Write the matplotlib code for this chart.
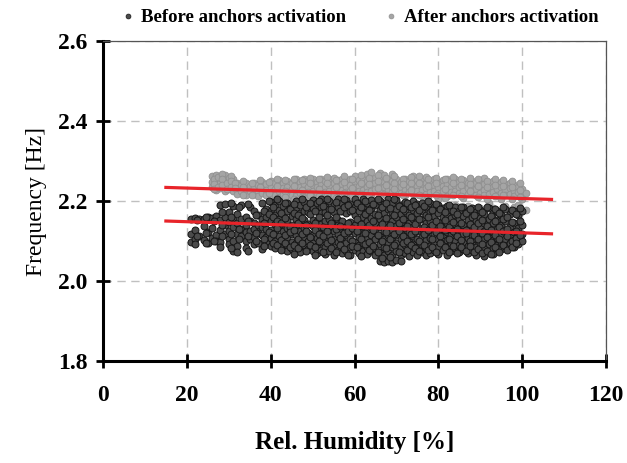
"""
 frequency vs relative humidity, before / after anchors activation
"""
import matplotlib.pyplot as plt
from matplotlib.lines import Line2D

plt.rcParams['font.family'] = ['Liberation Serif', 'DejaVu Serif']

# before anchors activation: humidity [%] -> measured frequencies [Hz]
before = {
    21: [2.155, 2.118, 2.098], 22: [2.158, 2.128, 2.105, 2.092],
    23: [2.156, 2.112], 24: [2.155, 2.138, 2.102],
    25: [2.160, 2.122, 2.096], 26: [2.157, 2.132, 2.108],
    27: [2.162, 2.115, 2.100], 28: [2.190, 2.152, 2.128, 2.098, 2.086],
    29: [2.192, 2.160, 2.140, 2.118], 30: [2.172, 2.148, 2.125, 2.106, 2.092],
    31: [2.188, 2.158, 2.134, 2.100, 2.075], 32: [2.168, 2.145, 2.118, 2.088, 2.072],
    33: [2.190, 2.155, 2.130, 2.112], 34: [2.160, 2.140, 2.122, 2.100, 2.082],
    35: [2.186, 2.150, 2.126, 2.105], 36: [2.176, 2.146, 2.130, 2.110, 2.092],
    37: [2.165, 2.140, 2.120, 2.096], 38: [2.195, 2.156, 2.135, 2.115, 2.080],
    39: [2.180, 2.160, 2.130, 2.110, 2.094],
    40: [2.198, 2.175, 2.150, 2.128, 2.108, 2.088],
    41: [2.190, 2.165, 2.142, 2.120, 2.100, 2.082],
    42: [2.200, 2.178, 2.155, 2.135, 2.112, 2.092],
    43: [2.188, 2.168, 2.146, 2.124, 2.104, 2.086],
    44: [2.196, 2.176, 2.152, 2.132, 2.110, 2.090, 2.075],
    45: [2.185, 2.162, 2.140, 2.118, 2.098, 2.080],
    46: [2.200, 2.180, 2.154, 2.136, 2.114, 2.094],
    47: [2.190, 2.170, 2.148, 2.126, 2.106, 2.086, 2.072],
    48: [2.198, 2.176, 2.152, 2.132, 2.110, 2.090],
    49: [2.186, 2.172, 2.142, 2.120, 2.100, 2.080],
    50: [2.202, 2.182, 2.152, 2.138, 2.116, 2.096, 2.076],
    51: [2.196, 2.174, 2.150, 2.130, 2.108, 2.088, 2.070],
    52: [2.204, 2.184, 2.170, 2.142, 2.120, 2.098, 2.078],
    53: [2.192, 2.172, 2.150, 2.128, 2.106, 2.086, 2.068],
    54: [2.200, 2.180, 2.154, 2.136, 2.116, 2.094, 2.074],
    55: [2.190, 2.172, 2.146, 2.124, 2.104, 2.084, 2.066],
    56: [2.206, 2.184, 2.152, 2.140, 2.118, 2.098, 2.078],
    57: [2.194, 2.174, 2.150, 2.130, 2.110, 2.088, 2.070],
    58: [2.202, 2.180, 2.170, 2.136, 2.114, 2.094, 2.074],
    59: [2.192, 2.174, 2.148, 2.126, 2.106, 2.086, 2.066],
    60: [2.204, 2.184, 2.164, 2.140, 2.120, 2.098, 2.078],
    61: [2.196, 2.174, 2.152, 2.132, 2.110, 2.090, 2.070],
    62: [2.206, 2.186, 2.160, 2.138, 2.116, 2.096, 2.076],
    63: [2.194, 2.172, 2.150, 2.128, 2.108, 2.086, 2.068],
    64: [2.202, 2.182, 2.158, 2.136, 2.114, 2.094, 2.074],
    65: [2.190, 2.168, 2.146, 2.124, 2.104, 2.082, 2.064],
    66: [2.200, 2.178, 2.156, 2.134, 2.112, 2.092, 2.072, 2.050],
    67: [2.192, 2.170, 2.148, 2.126, 2.106, 2.084, 2.066, 2.048],
    68: [2.204, 2.180, 2.158, 2.136, 2.114, 2.094, 2.074, 2.050],
    69: [2.194, 2.172, 2.150, 2.128, 2.108, 2.086, 2.066, 2.048],
    70: [2.202, 2.180, 2.160, 2.138, 2.116, 2.096, 2.076, 2.052],
    71: [2.190, 2.168, 2.146, 2.124, 2.104, 2.084, 2.064, 2.050],
    72: [2.198, 2.176, 2.154, 2.132, 2.112, 2.090, 2.070],
    73: [2.188, 2.166, 2.144, 2.122, 2.100, 2.080, 2.062],
    74: [2.200, 2.178, 2.156, 2.134, 2.112, 2.092, 2.072],
    75: [2.192, 2.170, 2.148, 2.126, 2.106, 2.086, 2.066],
    76: [2.196, 2.176, 2.154, 2.132, 2.110, 2.090, 2.072],
    77: [2.186, 2.166, 2.144, 2.122, 2.102, 2.082, 2.066],
    78: [2.194, 2.172, 2.150, 2.128, 2.108, 2.088, 2.070],
    79: [2.184, 2.162, 2.140, 2.118, 2.098, 2.078],
    80: [2.190, 2.170, 2.148, 2.126, 2.106, 2.086, 2.068],
    81: [2.182, 2.160, 2.138, 2.116, 2.096, 2.078],
    82: [2.188, 2.166, 2.144, 2.122, 2.102, 2.084, 2.066],
    83: [2.178, 2.158, 2.136, 2.114, 2.094, 2.076],
    84: [2.186, 2.164, 2.142, 2.120, 2.100, 2.082],
    85: [2.176, 2.154, 2.132, 2.110, 2.090, 2.072],
    86: [2.184, 2.162, 2.140, 2.118, 2.098, 2.080],
    87: [2.174, 2.152, 2.130, 2.108, 2.088, 2.070],
    88: [2.182, 2.160, 2.138, 2.116, 2.096, 2.078],
    89: [2.172, 2.150, 2.128, 2.106, 2.086, 2.066],
    90: [2.178, 2.158, 2.136, 2.114, 2.094, 2.080],
    91: [2.168, 2.146, 2.124, 2.104, 2.084, 2.062],
    92: [2.182, 2.156, 2.134, 2.112, 2.092],
    93: [2.170, 2.144, 2.122, 2.102, 2.082, 2.068],
    94: [2.176, 2.152, 2.130, 2.108, 2.090],
    95: [2.164, 2.140, 2.118, 2.098, 2.080],
    96: [2.180, 2.150, 2.126, 2.106, 2.088],
    97: [2.168, 2.136, 2.114, 2.094],
    98: [2.174, 2.146, 2.122, 2.102, 2.084],
    99: [2.166, 2.132, 2.110, 2.092],
    100: [2.176, 2.140, 2.118, 2.100],
    # readings between the whole percents
    22.5: [2.152, 2.112], 24.5: [2.160, 2.120, 2.094], 26.5: [2.150, 2.100],
    28.5: [2.172, 2.140, 2.112], 30.5: [2.196, 2.160, 2.118, 2.082],
    32.5: [2.184, 2.130, 2.104], 34.5: [2.192, 2.150, 2.112, 2.074],
    36.5: [2.166, 2.120, 2.100], 38.5: [2.176, 2.144, 2.104, 2.088],
    39.5: [2.200, 2.168, 2.122],
    40.5: [2.186, 2.160, 2.118, 2.096], 41.5: [2.204, 2.150, 2.132, 2.090],
    42.5: [2.170, 2.144, 2.102, 2.078], 43.5: [2.196, 2.158, 2.116, 2.094],
    44.5: [2.180, 2.136, 2.122, 2.084], 45.5: [2.192, 2.170, 2.128, 2.090, 2.068],
    46.5: [2.166, 2.146, 2.104, 2.082], 47.5: [2.206, 2.158, 2.118, 2.096],
    48.5: [2.184, 2.140, 2.124, 2.074], 49.5: [2.194, 2.168, 2.110, 2.090],
    50.5: [2.176, 2.146, 2.128, 2.084, 2.066], 51.5: [2.200, 2.160, 2.118, 2.100],
    52.5: [2.188, 2.136, 2.112, 2.072], 53.5: [2.206, 2.166, 2.124, 2.094],
    54.5: [2.180, 2.144, 2.102, 2.082], 55.5: [2.198, 2.160, 2.130, 2.072],
    56.5: [2.174, 2.138, 2.108, 2.090], 57.5: [2.204, 2.186, 2.120, 2.080],
    58.5: [2.190, 2.146, 2.124, 2.064], 59.5: [2.178, 2.132, 2.100, 2.088],
    60.5: [2.196, 2.156, 2.126, 2.084], 61.5: [2.186, 2.142, 2.104, 2.062],
    62.5: [2.200, 2.168, 2.120, 2.092], 63.5: [2.178, 2.140, 2.098, 2.078],
    64.5: [2.192, 2.150, 2.128, 2.088], 65.5: [2.206, 2.164, 2.116, 2.072],
    66.5: [2.186, 2.142, 2.100, 2.058], 67.5: [2.196, 2.158, 2.122, 2.082],
    68.5: [2.182, 2.140, 2.104, 2.060], 69.5: [2.204, 2.164, 2.118, 2.090],
    70.5: [2.188, 2.144, 2.126, 2.072], 71.5: [2.180, 2.156, 2.112, 2.094],
    72.5: [2.196, 2.138, 2.100, 2.078], 73.5: [2.184, 2.160, 2.118, 2.090],
    74.5: [2.190, 2.142, 2.124, 2.082], 75.5: [2.178, 2.156, 2.100, 2.074],
    76.5: [2.188, 2.136, 2.118, 2.090], 77.5: [2.200, 2.160, 2.128, 2.078],
    78.5: [2.178, 2.140, 2.104, 2.086], 79.5: [2.192, 2.150, 2.122, 2.072],
    80.5: [2.180, 2.138, 2.112, 2.094], 81.5: [2.172, 2.152, 2.128, 2.084],
    82.5: [2.190, 2.134, 2.106, 2.072], 83.5: [2.176, 2.148, 2.124, 2.088],
    84.5: [2.168, 2.130, 2.112, 2.070], 85.5: [2.186, 2.146, 2.102, 2.084],
    86.5: [2.170, 2.128, 2.120, 2.076], 87.5: [2.180, 2.142, 2.100, 2.088],
    88.5: [2.166, 2.134, 2.116, 2.072], 89.5: [2.184, 2.144, 2.104, 2.080],
    90.5: [2.172, 2.152, 2.120, 2.092, 2.070], 91.5: [2.186, 2.138, 2.110, 2.076],
    92.5: [2.162, 2.128, 2.098, 2.068], 93.5: [2.180, 2.150, 2.116, 2.086],
    94.5: [2.170, 2.136, 2.104, 2.072], 95.5: [2.184, 2.156, 2.124, 2.090],
    96.5: [2.160, 2.130, 2.112, 2.078], 97.5: [2.178, 2.148, 2.100, 2.086],
    98.5: [2.168, 2.126, 2.108, 2.094], 99.5: [2.182, 2.150, 2.116],
}

# after anchors activation
after = {
    26: [2.262, 2.248, 2.236], 27: [2.266, 2.252, 2.240, 2.228],
    28: [2.260, 2.246, 2.232], 29: [2.264, 2.250, 2.238, 2.226],
    30: [2.258, 2.244, 2.230], 31: [2.255, 2.240, 2.226],
    32: [2.246, 2.232, 2.218], 33: [2.240, 2.226],
    34: [2.244, 2.230, 2.216], 35: [2.238, 2.224],
    36: [2.246, 2.232, 2.218], 37: [2.240, 2.226, 2.212],
    38: [2.248, 2.234, 2.220], 39: [2.242, 2.228, 2.214],
    40: [2.250, 2.236, 2.222, 2.208], 41: [2.244, 2.230, 2.216],
    42: [2.252, 2.238, 2.224, 2.210], 43: [2.246, 2.232, 2.218],
    44: [2.250, 2.236, 2.222, 2.206], 45: [2.244, 2.230, 2.216],
    46: [2.254, 2.240, 2.226, 2.212], 47: [2.248, 2.234, 2.220],
    48: [2.256, 2.242, 2.228, 2.214], 49: [2.250, 2.236, 2.222, 2.208],
    50: [2.254, 2.240, 2.226, 2.212], 51: [2.248, 2.234, 2.220],
    52: [2.256, 2.242, 2.228, 2.214], 53: [2.250, 2.236, 2.222],
    54: [2.254, 2.240, 2.226, 2.210], 55: [2.258, 2.244, 2.230, 2.216],
    56: [2.252, 2.238, 2.224], 57: [2.256, 2.242, 2.228, 2.212],
    58: [2.250, 2.236, 2.222], 59: [2.254, 2.240, 2.226, 2.210],
    60: [2.262, 2.248, 2.234, 2.220], 61: [2.252, 2.238, 2.224],
    62: [2.256, 2.242, 2.228, 2.212], 63: [2.268, 2.250, 2.236, 2.222],
    64: [2.272, 2.254, 2.240, 2.226, 2.210], 65: [2.258, 2.244, 2.230],
    66: [2.270, 2.252, 2.238, 2.224], 67: [2.265, 2.248, 2.234, 2.218],
    68: [2.256, 2.242, 2.228], 69: [2.268, 2.250, 2.236, 2.222],
    70: [2.254, 2.240, 2.226, 2.212], 71: [2.248, 2.234, 2.220],
    72: [2.256, 2.242, 2.228, 2.214], 73: [2.250, 2.236, 2.222],
    74: [2.262, 2.246, 2.232, 2.218], 75: [2.252, 2.238, 2.224],
    76: [2.256, 2.242, 2.228, 2.212], 77: [2.260, 2.246, 2.232, 2.218],
    78: [2.250, 2.236, 2.222], 79: [2.254, 2.240, 2.226, 2.186],
    80: [2.248, 2.234, 2.220, 2.206], 81: [2.252, 2.238, 2.224],
    82: [2.256, 2.242, 2.228, 2.212], 83: [2.250, 2.236, 2.222],
    84: [2.254, 2.240, 2.226, 2.190], 85: [2.248, 2.234, 2.220, 2.185],
    86: [2.252, 2.238, 2.224, 2.208], 87: [2.246, 2.232, 2.218, 2.188],
    88: [2.250, 2.236, 2.222, 2.182], 89: [2.244, 2.230, 2.216],
    90: [2.248, 2.234, 2.220, 2.183], 91: [2.257, 2.242, 2.228, 2.214],
    92: [2.246, 2.232, 2.218, 2.195], 93: [2.250, 2.236, 2.222, 2.182],
    94: [2.244, 2.230, 2.216], 95: [2.248, 2.234, 2.220, 2.206],
    96: [2.242, 2.228, 2.214, 2.188], 97: [2.246, 2.232, 2.218, 2.177],
    98: [2.240, 2.226, 2.212, 2.185], 99: [2.236, 2.222, 2.190],
    100: [2.230, 2.216, 2.204], 101: [2.220, 2.178],
    26.5: [2.256, 2.242, 2.230], 27.5: [2.260, 2.236],
    28.5: [2.268, 2.254, 2.240], 29.5: [2.244, 2.230],
    30.5: [2.262, 2.250, 2.236], 31.5: [2.246, 2.232],
    33.5: [2.250, 2.234, 2.214], 35.5: [2.246, 2.216],
    37.5: [2.252, 2.234], 39.5: [2.248, 2.220],
    41.5: [2.254, 2.238, 2.208], 43.5: [2.252, 2.226, 2.210],
    45.5: [2.256, 2.238, 2.206], 47.5: [2.252, 2.228, 2.210],
    49.5: [2.258, 2.244, 2.216], 51.5: [2.254, 2.230, 2.212],
    53.5: [2.260, 2.246, 2.216], 55.5: [2.252, 2.236, 2.208],
    57.5: [2.262, 2.248, 2.220], 59.5: [2.256, 2.232, 2.214],
    61.5: [2.264, 2.246, 2.218], 63.5: [2.258, 2.242, 2.212],
    65.5: [2.266, 2.250, 2.232], 67.5: [2.258, 2.240, 2.214],
    69.5: [2.262, 2.246, 2.230], 71.5: [2.256, 2.242, 2.214],
    73.5: [2.260, 2.244, 2.228], 75.5: [2.262, 2.246, 2.216],
    77.5: [2.254, 2.238, 2.210], 79.5: [2.258, 2.244, 2.214],
    81.5: [2.254, 2.230, 2.208], 83.5: [2.260, 2.244, 2.216],
    85.5: [2.256, 2.240, 2.212], 87.5: [2.258, 2.242, 2.226],
    89.5: [2.254, 2.238, 2.210], 91.5: [2.250, 2.236, 2.204],
    93.5: [2.254, 2.240, 2.212], 95.5: [2.252, 2.238, 2.214],
    97.5: [2.250, 2.236, 2.206], 99.5: [2.244, 2.228, 2.210],
}

# linear trend lines (end points)
trend_rh = [15, 107]
trend_before = [2.150, 2.118]
trend_after = [2.234, 2.204]

xticks = [0, 20, 40, 60, 80, 100, 120]
yticks = [1.8, 2.0, 2.2, 2.4, 2.6]


def flat(d):
    xs, ys = [], []
    for rh, fs in d.items():
        for f in fs:
            xs.append(rh)
            ys.append(f)
    return xs, ys


xb, yb = flat(before)
xa, ya = flat(after)

fig = plt.figure(figsize=(6.27, 4.63), dpi=100)
ax = fig.add_axes([0.1643, 0.2203, 0.8022, 0.6911])

c_bef = '#4b4b4b'
c_aft = '#a5a5a5'
ax.scatter(xa, ya, s=24, c=c_aft, edgecolors='#8f8f8f', linewidths=0.6, zorder=3)
ax.scatter(xb, yb, s=25, c=c_bef, edgecolors='#151515', linewidths=0.7, zorder=4)
ax.plot(trend_rh, trend_before, color='#e8242a', lw=2.3, zorder=5)
ax.plot(trend_rh, trend_after, color='#e8242a', lw=2.3, zorder=5)

ax.set_xlim(0, 120)
ax.set_ylim(1.8, 2.6)
ax.set_xticks(xticks)
ax.set_yticks(yticks)
ax.set_xticklabels([str(v) for v in xticks], fontsize=17, fontweight='bold')
ax.set_yticklabels(['%.1f' % v for v in yticks], fontsize=17, fontweight='bold')
ax.grid(True, color='#c0c0c0', ls=(0, (6, 4)), lw=1.0, zorder=0)
ax.set_axisbelow(True)
ax.tick_params(direction='inout', length=10, width=2, colors='black')
ax.tick_params(axis='x', pad=12)
ax.tick_params(axis='y', pad=6)

for s in ['left', 'bottom']:
    ax.spines[s].set_linewidth(2.2)
for s in ['top', 'right']:
    ax.spines[s].set_linewidth(0.9)
    ax.spines[s].set_color('#555555')

ax.set_xlabel('Rel. Humidity [%]', fontsize=18, fontweight='bold', labelpad=18)
ax.set_ylabel('Frequency [Hz]', fontsize=17, labelpad=8)

handles = [Line2D([], [], ls='none', marker='o', ms=3.5, mfc=c_bef, mec='#151515', mew=0.5),
           Line2D([], [], ls='none', marker='o', ms=3.5, mfc=c_aft, mec='#8f8f8f', mew=0.5)]
fig.legend(handles, ['Before anchors activation', 'After anchors activation'],
           loc='center', bbox_to_anchor=(0.572, 0.962), ncol=2, frameon=False,
           prop={'family': 'Liberation Serif', 'weight': 'bold', 'size': 13.5},
           handletextpad=0.2, columnspacing=1.9, handlelength=1.0)

fig.savefig('out.png', dpi=100)
